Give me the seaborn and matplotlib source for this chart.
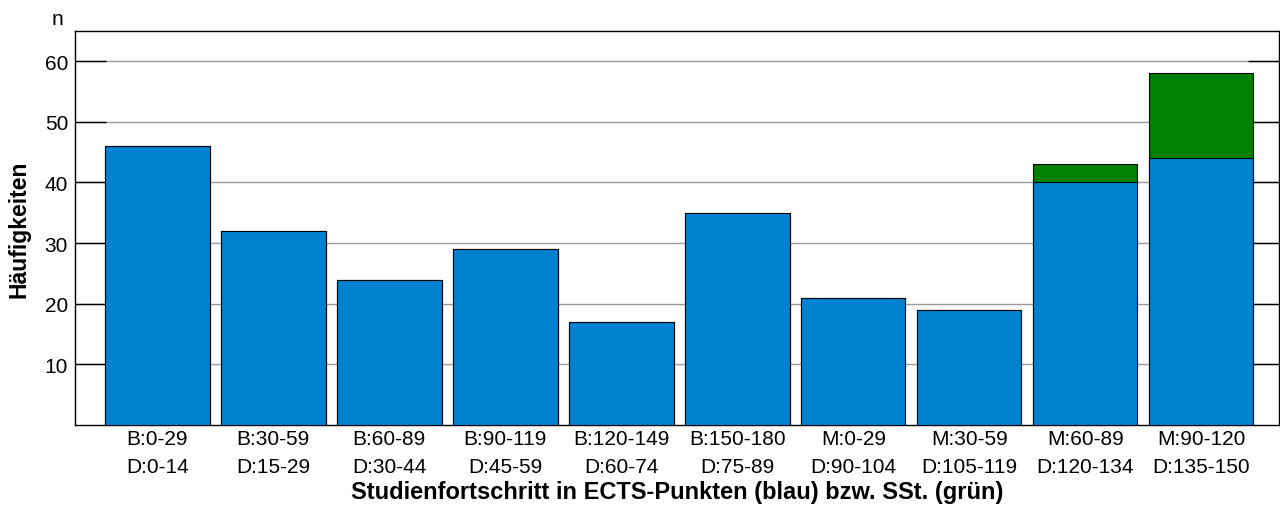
import pandas as pd
import seaborn as sns
import matplotlib.pyplot as plt

# data
b_labels = ["B:0-29", "B:30-59", "B:60-89", "B:90-119", "B:120-149",
            "B:150-180", "M:0-29", "M:30-59", "M:60-89", "M:90-120"]
d_labels = ["D:0-14", "D:15-29", "D:30-44", "D:45-59", "D:60-74",
            "D:75-89", "D:90-104", "D:105-119", "D:120-134", "D:135-150"]
blue_counts = [46, 32, 24, 29, 17, 35, 21, 19, 40, 44]
green_counts = [0, 0, 0, 0, 0, 0, 0, 0, 3, 14]

categories = [b + "\n" + d for b, d in zip(b_labels, d_labels)]
df = pd.DataFrame({
    "kategorie": categories,
    "blau": blue_counts,
    "gesamt": [b + g for b, g in zip(blue_counts, green_counts)],
})

sns.set_style("white")
plt.rcParams["font.family"] = ["Liberation Sans", "DejaVu Sans"]
plt.rcParams["text.color"] = "black"
plt.rcParams["axes.labelcolor"] = "black"
plt.rcParams["xtick.color"] = "black"
plt.rcParams["ytick.color"] = "black"

fig = plt.figure(figsize=(12.8, 5.06), dpi=100)
ax = fig.add_axes([0.0586, 0.158, 0.9406, 0.779])

# green (total) underneath, blue on top -> stacked look
sns.barplot(data=df, x="kategorie", y="gesamt", color="#008000", saturation=1,
            width=0.9, edgecolor="black", linewidth=0.8, ax=ax, zorder=3)
sns.barplot(data=df, x="kategorie", y="blau", color="#0082D1", saturation=1,
            width=0.9, edgecolor="black", linewidth=0.8, ax=ax, zorder=4)

ax.set_ylim(0, 65)
ax.set_xlim(-0.71, 9.67)
ax.set_yticks([10, 20, 30, 40, 50, 60])
ax.yaxis.grid(True, color="#999999", linewidth=1)
ax.set_axisbelow(True)

ax.tick_params(axis="y", direction="in", length=22, width=1, color="black",
               right=True, left=True, labelsize=15, pad=5)
ax.tick_params(axis="x", length=0, labelsize=15, pad=3)
for lbl in ax.get_xticklabels():
    lbl.set_linespacing(1.6)

for s in ax.spines.values():
    s.set_color("black")
    s.set_linewidth(1)

ax.set_ylabel("Häufigkeiten", fontsize=16.5, fontweight="bold", labelpad=10)
ax.set_xlabel("Studienfortschritt in ECTS-Punkten (blau) bzw. SSt. (grün)",
              fontsize=17, fontweight="bold", labelpad=3)
fig.text(0.0445, 0.962, "n", fontsize=15, ha="center", va="center")

fig.savefig("out.png", dpi=100)
